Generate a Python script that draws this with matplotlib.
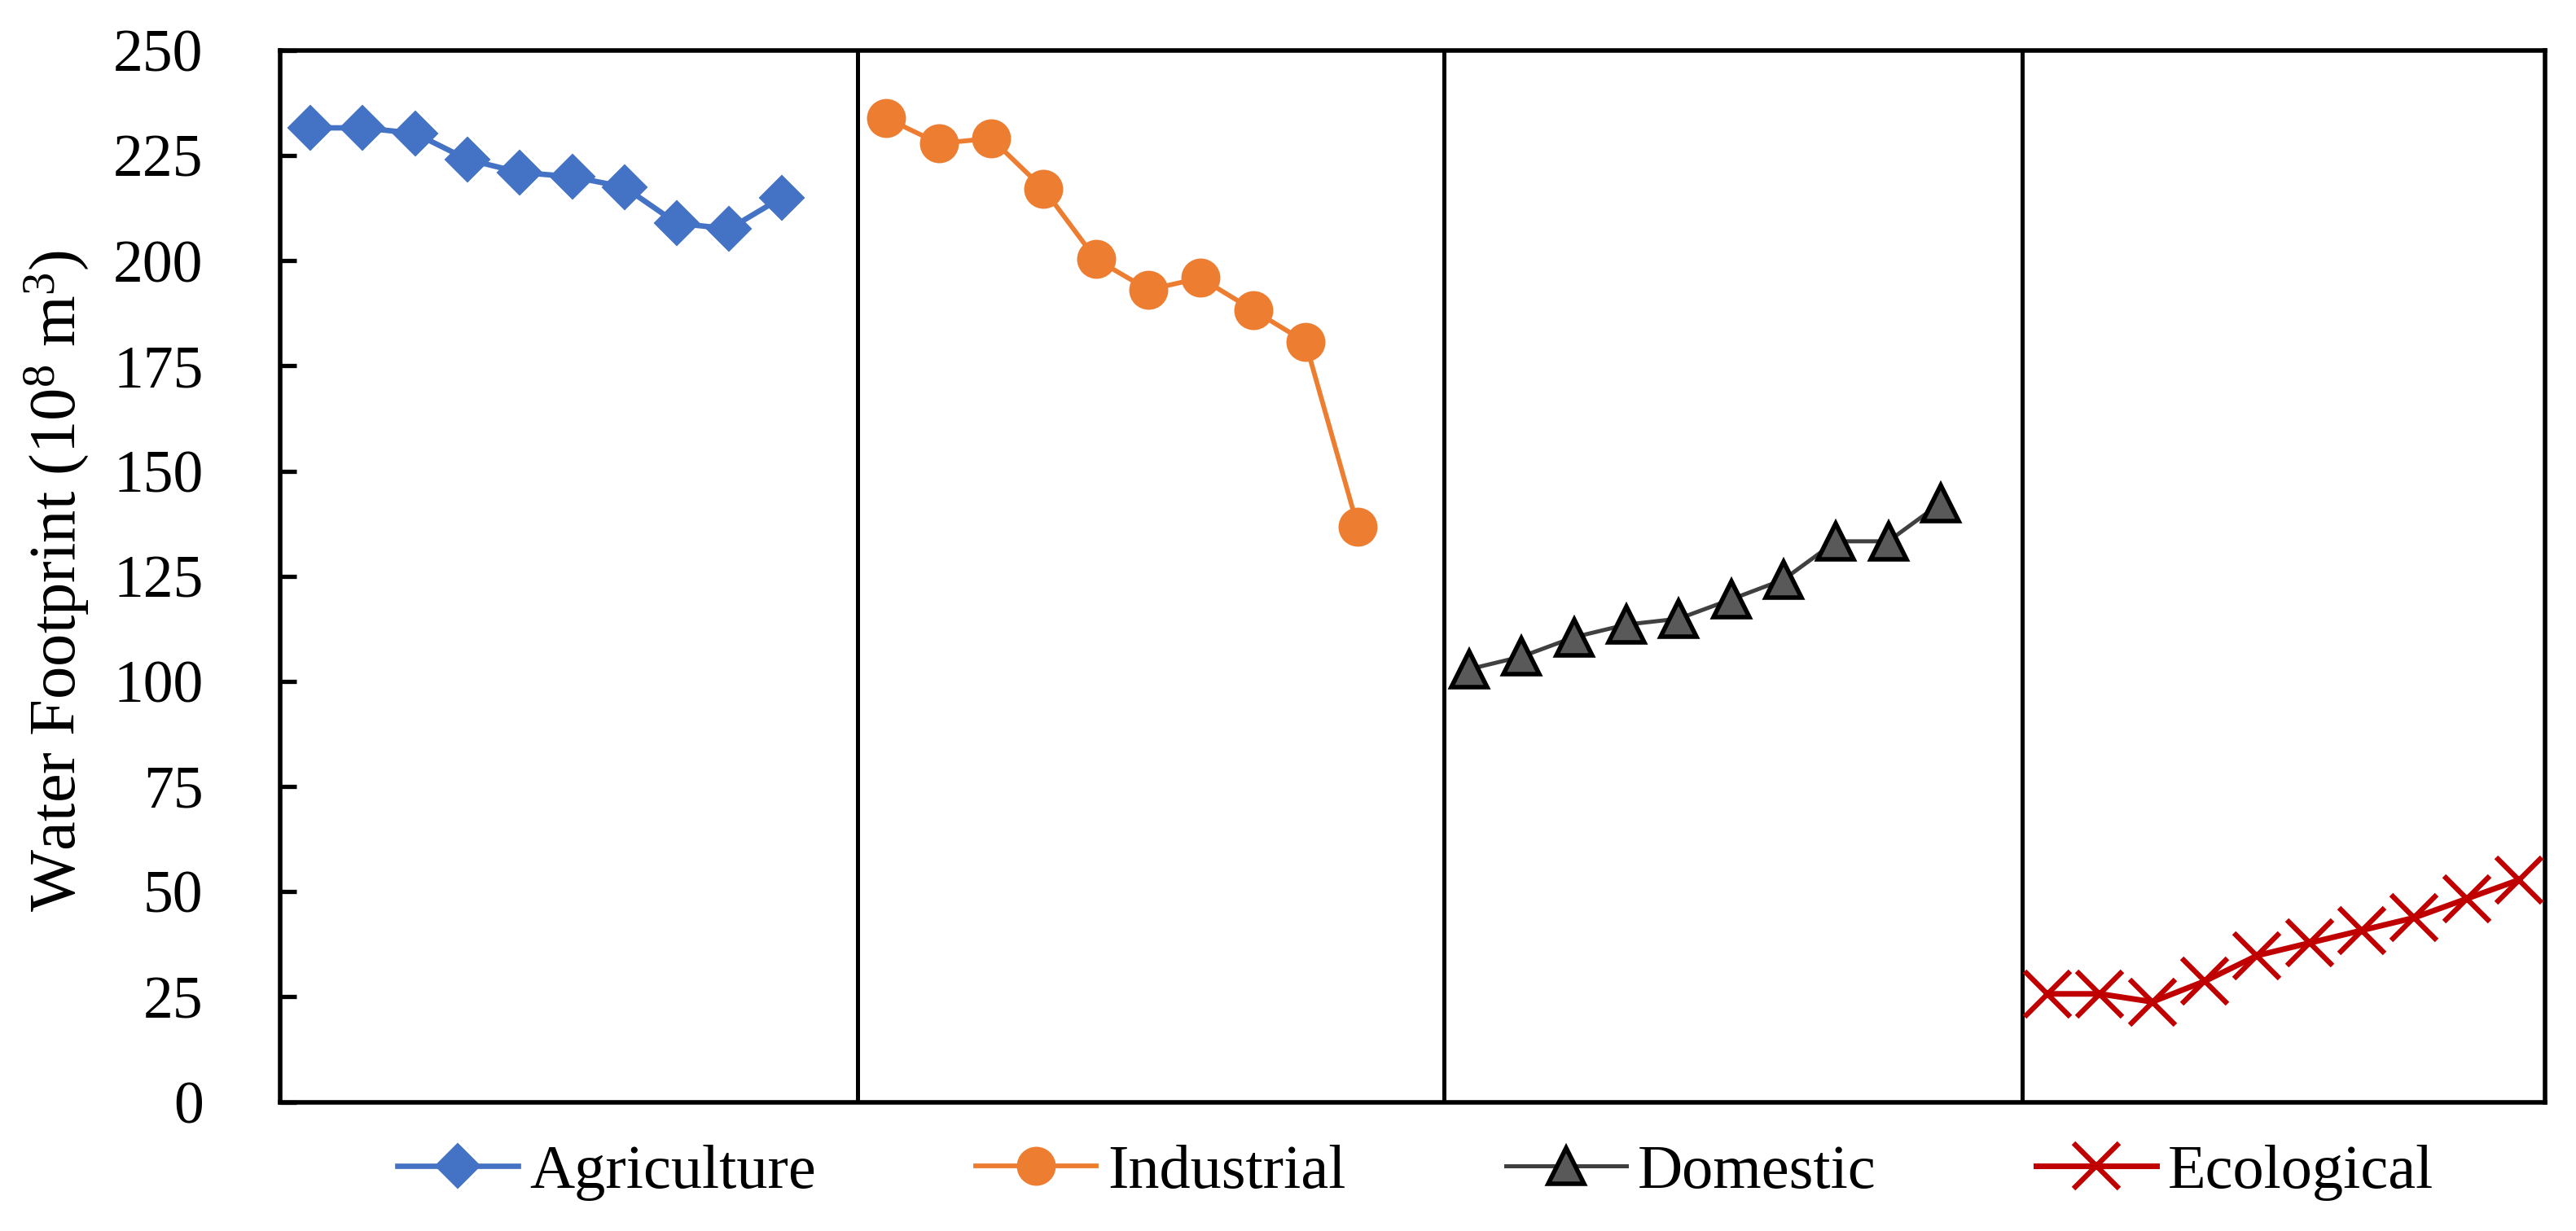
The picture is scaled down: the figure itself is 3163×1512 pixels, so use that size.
import matplotlib
matplotlib.use('Agg')
import matplotlib.pyplot as plt

# ---------------- data ----------------
series_names = ['Agriculture', 'Industrial', 'Domestic', 'Ecological']
agriculture = [231.6, 231.6, 230.3, 224.1, 221.0, 220.0, 217.5, 208.9, 207.6, 215.0]
industrial = [233.9, 227.9, 229.1, 217.1, 200.4, 193.1, 195.9, 188.3, 180.7, 136.8]
domestic = [102.9, 105.9, 110.5, 113.5, 114.9, 119.5, 124.2, 133.3, 133.3, 142.4]
ecological = [25.7, 25.7, 23.8, 28.7, 34.8, 37.8, 40.8, 43.8, 48.3, 52.8]
y_ticks = [0, 25, 50, 75, 100, 125, 150, 175, 200, 225, 250]
y_label = r'Water Footprint (10$^{\mathrm{8}}$ m$^{\mathrm{3}}$)'

# ---------------- layout / style ----------------
group_starts = [0.0, 11.0, 22.13, 33.17]
dividers = [10.45, 21.65, 32.69]
x_limits = (-0.575, 42.67)

styles = [
    dict(color='#4472C4', marker='D', ms=27, mfc='#4472C4', mec='#4472C4', mew=1.5, lw=4.8),
    dict(color='#ED7D31', marker='o', ms=33, mfc='#ED7D31', mec='#ED7D31', mew=1.5, lw=4.2),
    dict(color='#404040', marker='^', ms=31, mfc='#595959', mec='black', mew=4.0, lw=3.6),
    dict(color='#C00000', marker='x', ms=40, mfc='#C00000', mec='#C00000', mew=4.6, lw=5.0),
]

plt.rcParams['font.family'] = ['Liberation Serif', 'DejaVu Serif']
plt.rcParams['mathtext.fontset'] = 'custom'
plt.rcParams['mathtext.rm'] = 'Liberation Serif'
plt.rcParams['mathtext.it'] = 'Liberation Serif:italic'

W, H = 3163, 1512
fig = plt.figure(figsize=(W / 100, H / 100), dpi=100)
left, right, top, bottom = 344, 3125, 62, 1353.5
ax = fig.add_axes([left / W, 1 - bottom / H, (right - left) / W, (bottom - top) / H])

all_series = [agriculture, industrial, domestic, ecological]
handles = []
for name, vals, start, st in zip(series_names, all_series, group_starts, styles):
    xs = [start + i for i in range(len(vals))]
    ln, = ax.plot(xs, vals, label=name, zorder=3, **st)
    handles.append(ln)

for d in dividers:
    ax.axvline(d, color='black', lw=3.6, zorder=2)

ax.set_xlim(*x_limits)
ax.set_ylim(0, 250)
ax.set_xticks([])
ax.set_yticks(y_ticks)
ax.set_yticklabels([str(t) for t in y_ticks])
ax.tick_params(axis='y', direction='in', length=14.5, width=3.8, pad=68, labelsize=53)
for sp in ax.spines.values():
    sp.set_linewidth(4.0)

fig.text(70 / W, 0.528, y_label, rotation=90, ha='center', va='center', fontsize=58)

fig.legend(handles, series_names, loc='center', bbox_to_anchor=(0.5495, 1 - 1440 / H),
           ncol=4, frameon=False, fontsize=55, handlelength=1.94, handletextpad=0.18,
           columnspacing=2.57, numpoints=1)

fig.savefig('out.png', dpi=100)
